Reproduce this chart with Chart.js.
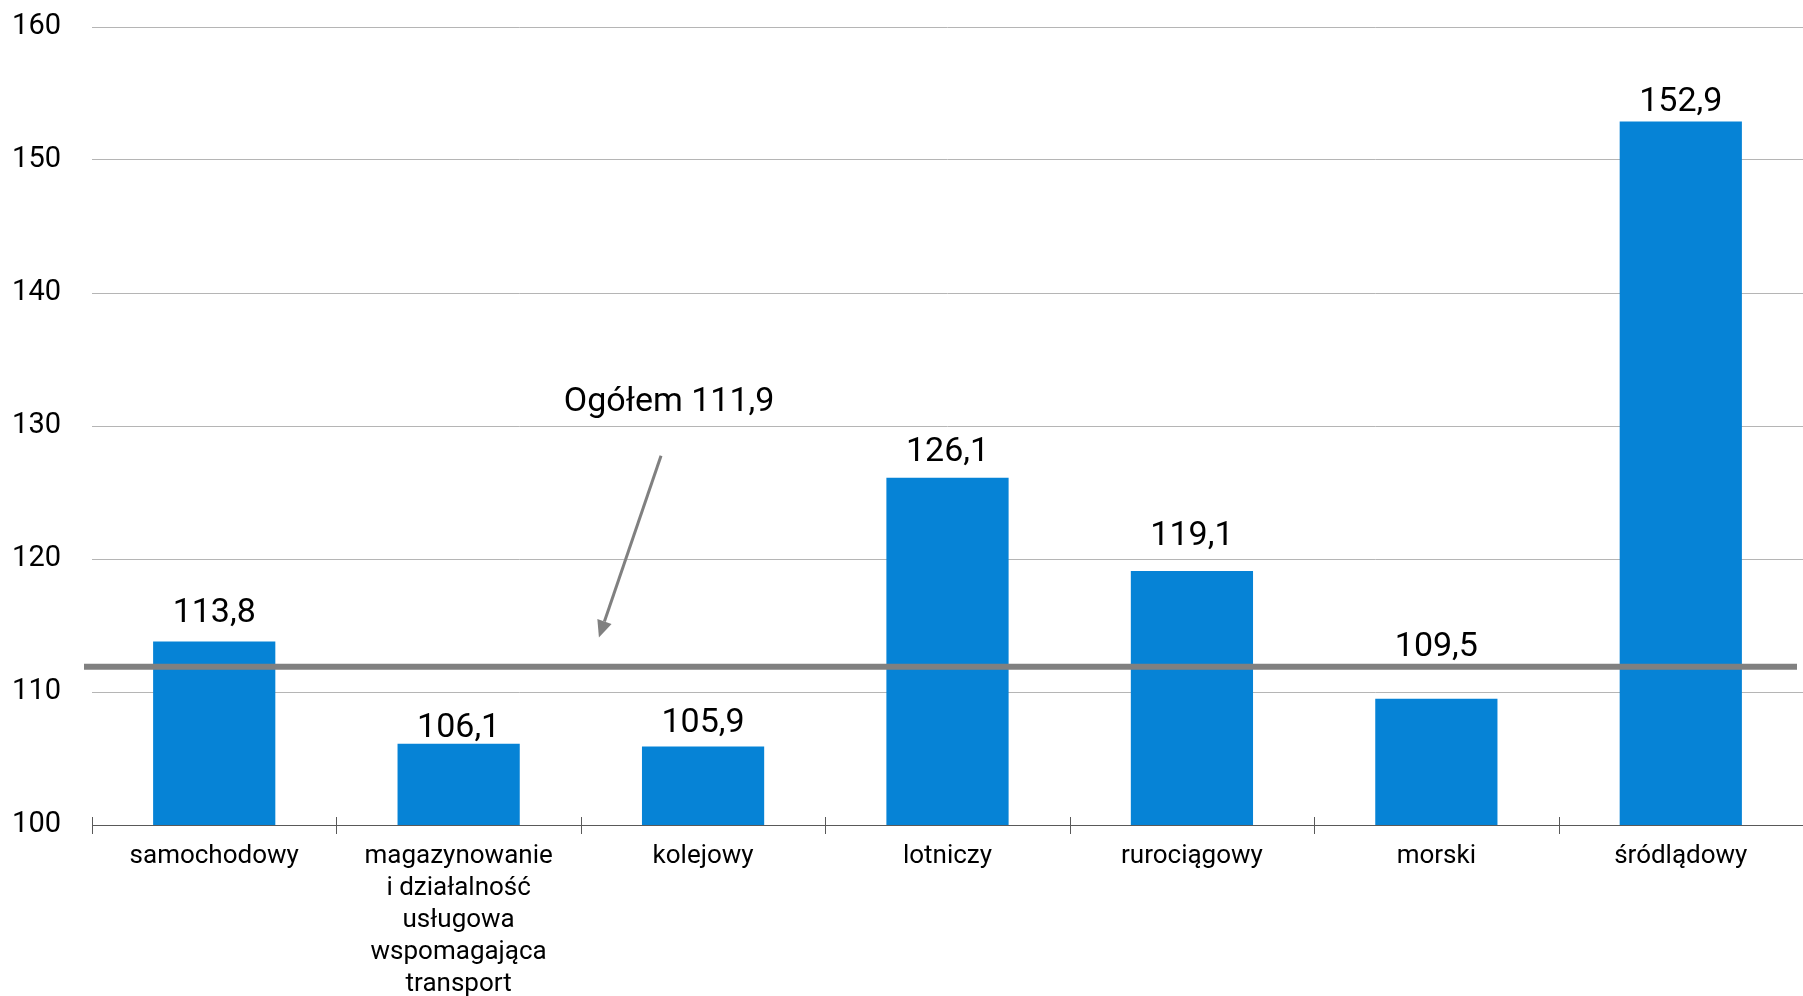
<!DOCTYPE html>
<html>
<head>
<meta charset="utf-8">
<script src="https://cdn.jsdelivr.net/npm/chart.js@4/dist/chart.umd.min.js"></script>
<style>
    html, body { margin: 0; padding: 0; background: #fff; }
</style>
</head>
<body>
<canvas id="chart" width="1803" height="996"></canvas>
<script>
// Data
const categories = [
    ['samochodowy'],
    ['magazynowanie', 'i działalność', 'usługowa', 'wspomagająca', 'transport'],
    ['kolejowy'],
    ['lotniczy'],
    ['rurociągowy'],
    ['morski'],
    ['śródlądowy']
];
const values = [113.8, 106.1, 105.9, 126.1, 119.1, 109.5, 152.9];
const totalValue = 111.9;
const totalLabel = 'Ogółem 111,9';
const yMin = 100;
const yMax = 160;
const yStep = 10;

// Gap (px) between each value label and its bar top, as placed in the original
const labelGap = [19, 7, 15, 17, 26, 43, 10];

const FONT = 'Roboto';
const fmt = v => v.toFixed(1).replace('.', ',');

// Tick marks crossing the x axis at category boundaries
const axisTicks = {
    id: 'axisTicks',
    afterDraw(chart) {
        const { ctx, chartArea, scales: { x } } = chart;
        const n = categories.length;
        const w = (x.right - x.left) / n;
        ctx.save();
        ctx.strokeStyle = '#595959';
        ctx.lineWidth = 1;
        for (let i = 0; i <= n; i++) {
            const px = Math.round(x.left + i * w) + 0.5;
            ctx.beginPath();
            ctx.moveTo(px, chartArea.bottom - 8);
            ctx.lineTo(px, chartArea.bottom + 9);
            ctx.stroke();
        }
        ctx.restore();
    }
};

// Average line, annotation and value labels
const overlay = {
    id: 'overlay',
    afterDatasetsDraw(chart) {
        const { ctx, chartArea, scales: { x, y } } = chart;
        ctx.save();

        // Ogółem line
        const ly = y.getPixelForValue(totalValue);
        ctx.strokeStyle = '#808080';
        ctx.lineWidth = 6;
        ctx.beginPath();
        ctx.moveTo(chartArea.left - 8, ly);
        ctx.lineTo(chartArea.right - 6, ly);
        ctx.stroke();

        // annotation text
        ctx.fillStyle = '#000';
        ctx.font = '34px ' + FONT;
        ctx.textAlign = 'center';
        ctx.textBaseline = 'alphabetic';
        ctx.fillText(totalLabel, x.getPixelForValue(1.861), y.getPixelForValue(131.1));

        // arrow
        const x0 = x.getPixelForValue(1.828), y0 = y.getPixelForValue(127.77);
        const x1 = x.getPixelForValue(1.574), y1 = y.getPixelForValue(114.09);
        const ang = Math.atan2(y1 - y0, x1 - x0);
        const head = 17, half = 7.5;
        ctx.strokeStyle = '#808080';
        ctx.fillStyle = '#808080';
        ctx.lineWidth = 3;
        ctx.beginPath();
        ctx.moveTo(x0, y0);
        ctx.lineTo(x1 - Math.cos(ang) * head, y1 - Math.sin(ang) * head);
        ctx.stroke();
        const bx = x1 - Math.cos(ang) * head, by = y1 - Math.sin(ang) * head;
        ctx.beginPath();
        ctx.moveTo(x1, y1);
        ctx.lineTo(bx + Math.sin(ang) * half, by - Math.cos(ang) * half);
        ctx.lineTo(bx - Math.sin(ang) * half, by + Math.cos(ang) * half);
        ctx.closePath();
        ctx.fill();

        // value labels
        ctx.fillStyle = '#000';
        ctx.font = '34px ' + FONT;
        chart.getDatasetMeta(0).data.forEach((bar, i) => {
            ctx.fillText(fmt(values[i]), bar.x, bar.y - labelGap[i]);
        });

        ctx.restore();
    }
};

const chart = new Chart(document.getElementById('chart'), {
    type: 'bar',
    data: {
        labels: categories,
        datasets: [{
            data: values,
            backgroundColor: '#0683d6',
            borderWidth: 0,
            barPercentage: 0.5,
            categoryPercentage: 1
        }]
    },
    options: {
        responsive: false,
        animation: false,
        events: [],
        layout: { padding: { top: 27, right: 0, bottom: 0, left: 0 } },
        plugins: {
            legend: { display: false },
            tooltip: { enabled: false }
        },
        scales: {
            x: {
                offset: true,
                grid: { display: true, drawOnChartArea: false, drawTicks: false },
                border: { display: true, color: '#595959', width: 1 },
                ticks: {
                    color: '#000',
                    font: { family: FONT, size: 26, lineHeight: 1.23 },
                    padding: 16,
                    maxRotation: 0,
                    autoSkip: false
                },
                afterFit(scale) { scale.height = 171; }
            },
            y: {
                min: yMin,
                max: yMax,
                grid: { color: '#b5b5b5', lineWidth: 1, drawTicks: false },
                border: { display: false },
                ticks: {
                    stepSize: yStep,
                    color: '#000',
                    font: { family: FONT, size: 29 },
                    padding: 31
                },
                afterFit(scale) {
                    scale.width = 92;
                    scale.paddingTop = 0;
                    scale.paddingBottom = 0;
                }
            }
        }
    },
    plugins: [axisTicks, overlay]
});
</script>
</body>
</html>
